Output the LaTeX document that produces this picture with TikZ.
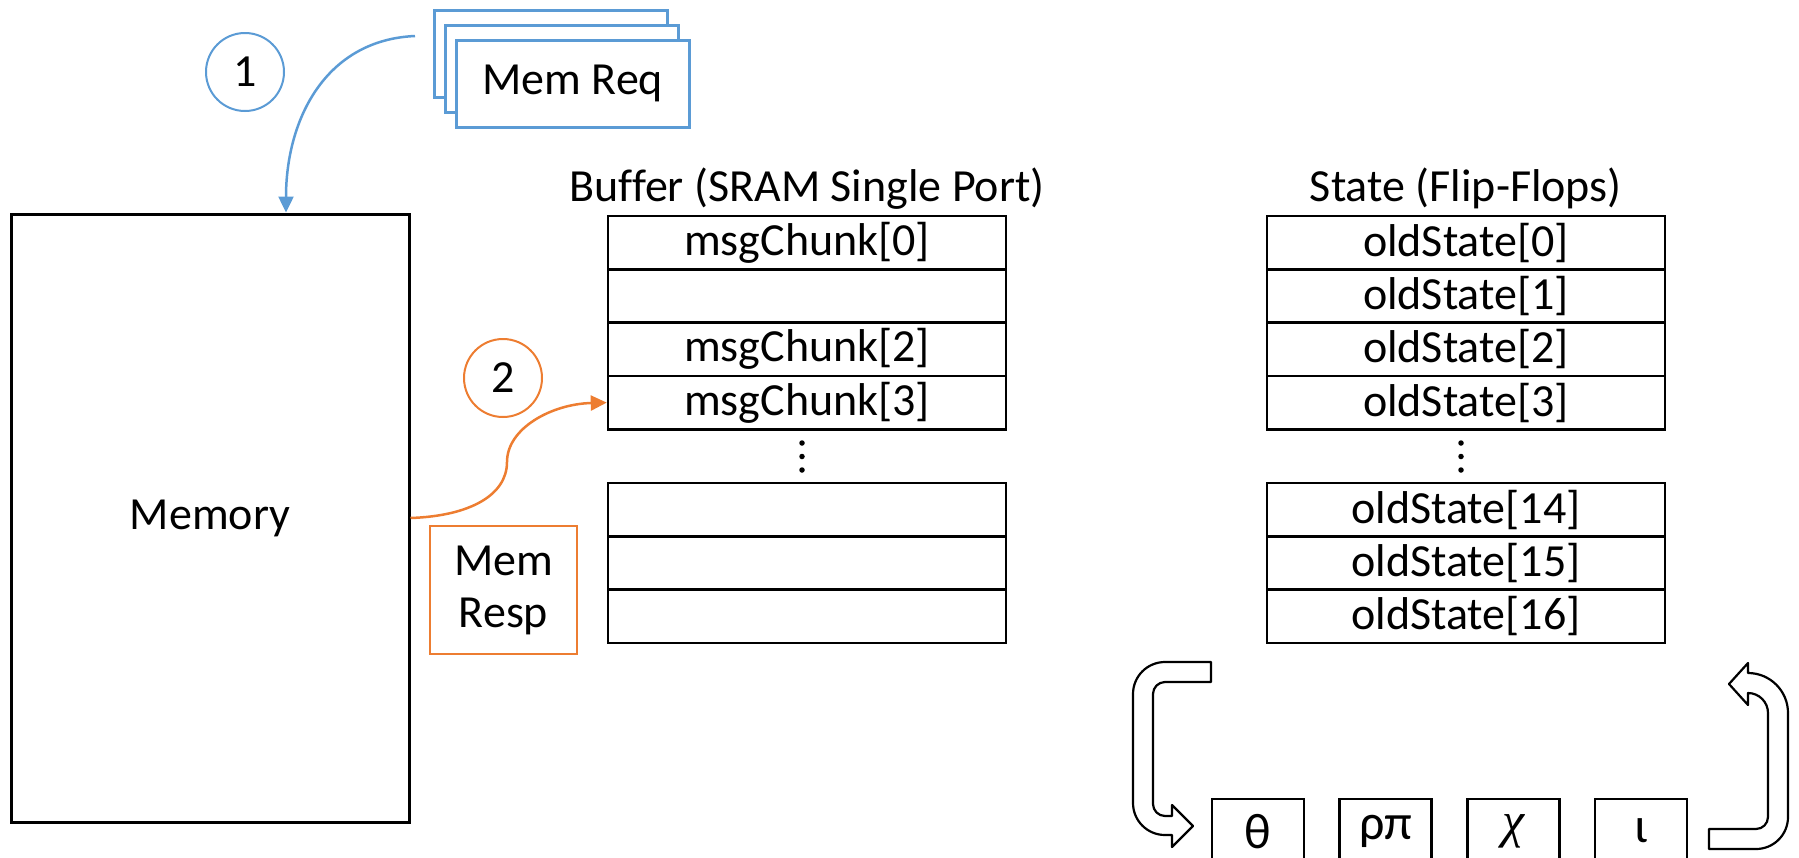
\documentclass[tikz,border=0pt]{standalone}
\usepackage{fontspec}
\setmainfont{Carlito}[Ligatures=CommonOff]
\newfontfamily\chifont{Liberation Serif}
\usetikzlibrary{arrows.meta}
\definecolor{mblue}{HTML}{5B9BD5}
\definecolor{morange}{HTML}{ED7D31}
\begin{document}
\begin{tikzpicture}[x=1pt,y=-1pt,
  txt/.style={font=\fontsize{46}{52}\selectfont},
  rowbox/.style={draw, line width=2.5pt, minimum width=398pt, minimum height=53.3pt, inner sep=0pt, txt},
  greekbox/.style={draw, line width=2.2pt, minimum width=92pt, minimum height=64pt, inner sep=0pt, anchor=north, font=\fontsize{50}{56}\selectfont},
  reqbox/.style={draw=mblue, line width=2.5pt, fill=white, minimum width=233pt, minimum height=87pt, inner sep=0pt, anchor=north west, txt},
  numcirc/.style={circle, line width=2pt, minimum size=78pt, inner sep=0pt, txt},
  flowarrow/.style={line width=2.5pt, -{Triangle[length=16pt,width=15pt]}},
  uarrow/.style={draw=black, line width=2.2pt, fill=white, line join=round},
  dotmark/.style={circle, fill=black, inner sep=0pt, minimum size=5.5pt}
]
\useasboundingbox (0,0) rectangle (1799,857);
\clip (0,0) rectangle (1799,857);

% Memory request stack
\node[reqbox] (reqback) at (433,9) {};
\node[reqbox] (reqmid) at (444,24) {};
\node[reqbox] (reqfront) at (455,39) {\raisebox{-5pt}{Mem Req}};
\node[numcirc, draw=mblue] (c1) at (245,72) {1};

% Memory
\node[draw, line width=3pt, minimum width=398pt, minimum height=608pt, inner sep=0pt, txt] (mem) at (210,518) {Memory};

% Buffer
\node[txt, anchor=base] (buftitle) at (807,201) {Buffer (SRAM Single Port)};
\node[rowbox] (b0) at (807,242.6) {msgChunk[0]};
\node[rowbox] (b1) at (807,296) {};
\node[rowbox] (b2) at (807,349.3) {msgChunk[2]};
\node[rowbox] (b3) at (807,402.6) {msgChunk[3]};
\node[dotmark] (bd1) at (802,443) {};
\node[dotmark] (bd2) at (802,456.5) {};
\node[dotmark] (bd3) at (802,470) {};
\node[rowbox] (b13) at (807,509.7) {};
\node[rowbox] (b14) at (807,563) {};
\node[rowbox] (b15) at (807,616.3) {};

% State
\node[txt, anchor=base] (sttitle) at (1466,201) {State (Flip-Flops)};
\node[rowbox] (s0) at (1466,242.6) {oldState[0]};
\node[rowbox] (s1) at (1466,296) {oldState[1]};
\node[rowbox] (s2) at (1466,349.3) {oldState[2]};
\node[rowbox] (s3) at (1466,402.6) {oldState[3]};
\node[dotmark] (sd1) at (1461,443) {};
\node[dotmark] (sd2) at (1461,456.5) {};
\node[dotmark] (sd3) at (1461,470) {};
\node[rowbox] (s14) at (1466,509.7) {oldState[14]};
\node[rowbox] (s15) at (1466,563) {oldState[15]};
\node[rowbox] (s16) at (1466,616.3) {oldState[16]};

% Memory response
\node[numcirc, draw=morange] (c2) at (503,378) {2};
\node[draw=morange, line width=2.5pt, minimum width=147pt, minimum height=128pt, inner sep=0pt, align=center, txt] (resp) at (503.5,590) {Mem\\Resp};

% Flow arrows
\coordinate (reqstart) at (415,36);
\draw[flowarrow, mblue] (reqstart) .. controls (325,40) and (286,120) .. ([xshift=76pt]mem.north);
\draw[flowarrow, morange] (mem.east) .. controls (470,516) and (507,495) .. (507,462)
   .. controls (507,428) and (552,404) .. (b3.west);

% Round functions
\node[greekbox] (theta) at (1258,798) {θ};
\node[greekbox] (rhopi) at (1385.5,798) {ρπ};
\node[greekbox] (chi) at (1513.5,798) {\chifont\itshape χ};
\node[greekbox] (iota) at (1641,798) {ι};

% Left U-turn block arrow
\draw[uarrow] (1211,662) -- (1165,662)
  .. controls (1147.3,662) and (1133,676.3) .. (1133,694)
  -- (1133,803)
  .. controls (1133,820.7) and (1147.3,835) .. (1165,835)
  -- (1172,835) -- (1172,847) -- (1193,826) -- (1172,805) -- (1172,816)
  -- (1165,816)
  .. controls (1158.4,816) and (1153,810.6) .. (1153,804)
  -- (1153,694)
  .. controls (1153,687.4) and (1158.4,682) .. (1165,682)
  -- (1211,682) -- cycle;

% Right U-turn block arrow
\draw[uarrow] (1709,849) -- (1756,849)
  .. controls (1773.7,849) and (1788,834.7) .. (1788,817)
  -- (1788,713)
  .. controls (1788,690.9) and (1770.1,673) .. (1748,673)
  -- (1748,663) -- (1729,684) -- (1748,705) -- (1748,693)
  .. controls (1759,693) and (1768,702) .. (1768,713)
  -- (1768,817)
  .. controls (1768,823.6) and (1762.6,829) .. (1756,829)
  -- (1709,829) -- cycle;
\end{tikzpicture}
\end{document}
